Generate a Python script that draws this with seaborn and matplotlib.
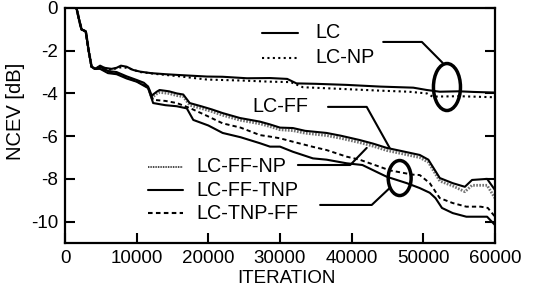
import matplotlib
matplotlib.use("Agg")
import matplotlib.pyplot as plt
import seaborn as sns
import pandas as pd
from matplotlib.patches import Ellipse

# ---------------- data ----------------
prefix_x = [1600, 2000, 2300, 2900, 3300, 3700, 4200]
prefix_y = [0.0, -0.6, -1.0, -1.1, -2.0, -2.75, -2.85]

lc_x = [4900, 5500, 6500, 7200, 7800, 8600, 9500, 10500, 12000, 14000, 16000, 19800,
        22000, 25400, 28600, 31000, 32300, 35000, 39300, 44000, 48600, 50500, 52300,
        55000, 57000, 60000]
lc_y = [-2.7, -2.8, -2.85, -2.8, -2.7, -2.75, -2.9, -2.98, -3.05, -3.1, -3.14, -3.21,
        -3.22, -3.29, -3.28, -3.32, -3.53, -3.55, -3.6, -3.68, -3.73, -3.84, -3.92,
        -3.9, -3.93, -3.96]

lcnp_x = [4900, 6500, 7500, 8600, 10500, 13000, 16000, 19800, 25000, 28600, 31500,
          33200, 38000, 44000, 48000, 50500, 51300, 55000, 60000]
lcnp_y = [-2.75, -2.9, -2.78, -2.8, -3.0, -3.1, -3.2, -3.35, -3.4, -3.45, -3.47,
          -3.71, -3.78, -3.87, -3.92, -4.0, -4.15, -4.13, -4.18]

lcff_x = [4900, 6000, 7200, 8600, 10000, 11000, 11600, 12100, 12800, 13200, 14500, 15600,
          16500, 17400, 19000, 20500, 22000, 24400, 27200, 28600, 30000, 31800, 33500,
          36500, 38500, 41100, 43000, 44900, 47000, 49500, 50700, 52300, 54100, 55800,
          56800, 58900, 60000]
lcff_y = [-2.75, -2.95, -3.0, -3.2, -3.37, -3.5, -3.68, -4.1, -3.92, -3.84, -3.9, -4.0,
          -4.05, -4.45, -4.6, -4.75, -4.92, -5.15, -5.32, -5.45, -5.6, -5.62, -5.75,
          -5.85, -5.98, -6.18, -6.35, -6.55, -6.7, -6.88, -7.1, -7.96, -8.2, -8.37,
          -8.05, -8.0, -8.52]

lcffnp_x = [4900, 6000, 7200, 8600, 10000, 11000, 11600, 12100, 12800, 13200, 14500, 15600,
            16500, 17400, 19000, 20500, 22000, 24400, 27200, 28600, 30000, 31800, 33500,
            36500, 38500, 41100, 43000, 44900, 47000, 49500, 50700, 52300, 54100, 55800,
            56800, 58900, 60000]
lcffnp_y = [-2.8, -3.0, -3.05, -3.25, -3.42, -3.55, -3.72, -4.2, -4.02, -3.95, -4.0, -4.1,
            -4.15, -4.55, -4.7, -4.85, -5.02, -5.25, -5.42, -5.55, -5.7, -5.74, -5.86,
            -5.97, -6.1, -6.3, -6.47, -6.67, -6.82, -7.0, -7.22, -8.1, -8.33, -8.6,
            -8.3, -8.3, -8.9]

lctnpff_x = [4900, 6000, 7200, 8600, 10000, 11600, 12300, 14000, 15600, 17400, 19500,
             22000, 24500, 27200, 28600, 30000, 31800, 34600, 36500, 39300, 41100, 43900,
             45300, 48500, 49500, 50900, 52300, 54100, 56000, 58000, 59000, 60000]
lctnpff_y = [-2.8, -3.0, -3.05, -3.25, -3.42, -3.72, -4.3, -4.35, -4.45, -4.68, -5.0,
             -5.4, -5.6, -5.95, -6.02, -6.1, -6.26, -6.5, -6.65, -6.96, -7.1, -7.43,
             -7.6, -7.8, -7.82, -8.2, -8.9, -9.13, -9.3, -9.3, -9.36, -9.77]

lcfftnp_x = [4900, 6000, 7200, 8600, 10000, 11600, 12300, 14000, 15600, 17000, 17900,
             20000, 22000, 24500, 27200, 28600, 30000, 31800, 34600, 36500, 39300, 41500,
             43900, 44900, 47700, 49500, 50900, 51700, 52600, 54100, 56000, 58900, 60000]
lcfftnp_y = [-2.85, -3.05, -3.1, -3.3, -3.45, -3.75, -4.45, -4.55, -4.6, -4.7, -5.24,
             -5.5, -5.85, -6.05, -6.33, -6.49, -6.49, -6.73, -7.04, -7.1, -7.27, -7.35,
             -7.74, -7.9, -8.2, -8.43, -8.65, -8.9, -9.36, -9.6, -9.77, -9.77, -10.16]

x_ticks = [0, 10000, 20000, 30000, 40000, 50000, 60000]
y_ticks = [0, -2, -4, -6, -8, -10]

# ---------------- figure ----------------
sns.set_theme(style="ticks")
plt.rcParams["font.family"] = ["Liberation Sans", "DejaVu Sans"]
plt.rcParams["text.color"] = "black"
plt.rcParams["axes.labelcolor"] = "black"

fig = plt.figure(figsize=(5.35, 2.91), dpi=100)
ax = fig.add_axes([0.1215, 0.165, 0.8037, 0.8076])

styles = {
    "LC": dict(color="black", lw=1.5, ls="-"),
    "LC-NP": dict(color="black", lw=1.5, ls=(0, (1, 1.6))),
    "LC-FF": dict(color="black", lw=1.5, ls="-"),
    "LC-FF-NP": dict(color="0.45", lw=2.0, ls=(0, (0.6, 0.5))),
    "LC-FF-TNP": dict(color="black", lw=1.5, ls="-"),
    "LC-TNP-FF": dict(color="black", lw=1.4, ls=(0, (2.2, 1.6))),
}
series = {
    "LC": (lc_x, lc_y),
    "LC-NP": (lcnp_x, lcnp_y),
    "LC-FF-NP": (lcffnp_x, lcffnp_y),
    "LC-FF": (lcff_x, lcff_y),
    "LC-TNP-FF": (lctnpff_x, lctnpff_y),
    "LC-FF-TNP": (lcfftnp_x, lcfftnp_y),
}
for name, (xs, ys) in series.items():
    df = pd.DataFrame({"x": prefix_x + xs, "y": prefix_y + ys})
    st = styles[name]
    sns.lineplot(data=df, x="x", y="y", ax=ax, color=st["color"], lw=st["lw"],
                 linestyle=st["ls"], sort=False, estimator=None)

ax.set_xlim(0, 60000)
ax.set_ylim(-11, 0)
ax.set_xticks(x_ticks)
ax.set_yticks(y_ticks)
ax.set_xticklabels([str(v) for v in x_ticks])
ax.set_yticklabels([str(v) for v in y_ticks])
ax.tick_params(axis="both", direction="in", length=7, width=1.5, labelsize=13.5,
               colors="black", labelcolor="black", pad=5)
ax.tick_params(axis="y", right=True, left=True)
ax.tick_params(axis="x", top=False)
for s in ax.spines.values():
    s.set_linewidth(1.6)
    s.set_color("black")
ax.set_xlabel("ITERATION", fontsize=13.5, color="black")
ax.set_ylabel("NCEV [dB]", fontsize=14.5, color="black")
ax.xaxis.set_label_coords(0.516, -0.115)
ax.yaxis.set_label_coords(-0.093, 0.56)
ax.grid(False)

# ---------------- in-plot legend labels & leaders ----------------
fs = 14.2
# legend group 1
leg1 = [("LC", -1.17, "-"), ("LC-NP", -2.34, (0, (1, 1.6)))]
for lab, yv, ls in leg1:
    ax.plot([27500, 32500], [yv, yv], color="black", lw=1.5, ls=ls)
    ax.text(34900, yv, lab, fontsize=fs, va="center", ha="left", color="black")
# leader for LC/LC-NP
ax.plot([44400, 49800, 52700], [-1.59, -1.59, -2.57], color="black", lw=1.5)
ax.add_patch(Ellipse((53300, -3.70), 3770, 2.2, fill=False, lw=2.5, ec="black"))

# LC-FF label
ax.text(26200, -4.63, "LC-FF", fontsize=fs, va="center", ha="left", color="black")
ax.plot([36700, 42100, 45300], [-4.63, -4.63, -6.55], color="black", lw=1.5)

# legend group 2
leg2 = [("LC-FF-NP", -7.44, styles["LC-FF-NP"]),
        ("LC-FF-TNP", -8.52, styles["LC-FF-TNP"]),
        ("LC-TNP-FF", -9.6, styles["LC-TNP-FF"])]
for lab, yv, st in leg2:
    lw = 1.5 if lab != "LC-FF-NP" else 1.2
    ls = st["ls"] if lab != "LC-FF-NP" else (0, (0.5, 0.5))
    ax.plot([11600, 16500], [yv, yv], color="black", lw=lw, ls=ls)
    ax.text(18300, yv, lab, fontsize=fs, va="center", ha="left", color="black")
# leaders
ax.plot([32500, 39800, 42100], [-7.35, -7.35, -6.55], color="black", lw=1.5)
ax.plot([35600, 42800, 45300], [-9.22, -9.22, -8.43], color="black", lw=1.5)
ax.add_patch(Ellipse((46700, -7.96), 3200, 1.64, fill=False, lw=2.5, ec="black"))

fig.savefig("out.png", dpi=100)
